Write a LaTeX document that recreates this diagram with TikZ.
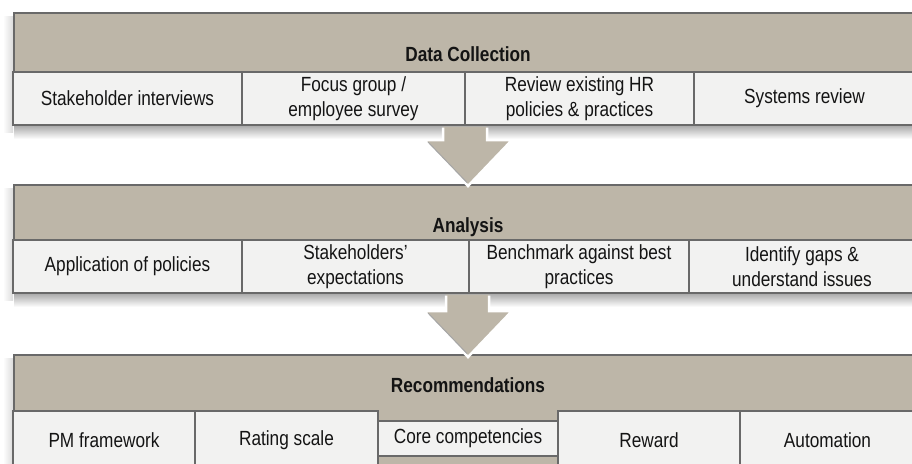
\documentclass[tikz,border=0pt]{standalone}
\usepackage{fontspec}
\setmainfont[FakeStretch=0.84]{Liberation Sans}
\definecolor{hdr}{RGB}{189,182,168}
\definecolor{cellfill}{RGB}{242,242,241}
\definecolor{bordercol}{RGB}{105,105,105}
\definecolor{txt}{RGB}{20,20,20}
\begin{document}
\begin{tikzpicture}[x=1pt,y=-1pt,
  hdrbox/.style={draw=bordercol, line width=1.1pt, fill=hdr, inner sep=0pt},
  cell/.style={draw=bordercol, line width=1.3pt, fill=cellfill, inner sep=0pt, align=center, text=txt, font=\fontsize{20.5}{25}\selectfont},
  hlabel/.style={anchor=base, inner sep=0pt, text=txt, font=\fontsize{20.5}{25}\selectfont\bfseries},
  arrowbody/.style={fill=hdr},
  arrowedge/.style={draw=white, line width=2.5pt, line join=miter},
  pshadow/.style={top color=black!32, bottom color=white, draw=none}]
\useasboundingbox (0,0) rectangle (912,463);
\clip (0,0) rectangle (912,463);
\fill[white] (0,0) rectangle (912,463);

% shadows
\shade[pshadow] (14,126) rectangle (912,139);
\shade[pshadow] (14,294) rectangle (912,307);
\shade[left color=white, right color=black!14] (3,16) rectangle (13,132);
\shade[left color=white, right color=black!14] (3,188) rectangle (13,300);
\shade[left color=white, right color=black!14] (3,358) rectangle (13,463);

% panel 1
\node[hdrbox, minimum width=901pt, minimum height=59pt] (h1) at (464.5,42.5) {};
\node[hlabel] (t1) at (468,61) {Data Collection};
\node[cell, minimum width=229pt, minimum height=53pt] (c11) at (127.5,98.5) {Stakeholder interviews};
\node[cell, minimum width=223pt, minimum height=53pt] (c12) at (353.5,98.5) {Focus group /\\employee survey};
\node[cell, minimum width=229pt, minimum height=53pt] (c13) at (579.5,98.5) {Review existing HR\\policies \& practices};
\node[cell, minimum width=221pt, minimum height=53pt] (c14) at (804.5,98.5) {Systems review};

% panel 2
\node[hdrbox, minimum width=901pt, minimum height=55pt] (h2) at (464.5,212.5) {};
\node[hlabel] (t2) at (468,232) {Analysis};
\node[cell, minimum width=229pt, minimum height=53pt] (c21) at (127.5,266.5) {Application of policies};
\node[cell, minimum width=227pt, minimum height=53pt] (c22) at (355.5,266.5) {Stakeholders'\\expectations};
\node[cell, minimum width=220pt, minimum height=53pt] (c23) at (579,266.5) {Benchmark against best\\practices};
\node[cell, minimum width=226pt, minimum height=53pt] (c24) at (802,266.5) {Identify gaps \&\\understand issues};

% panel 3
\node[hdrbox, minimum width=901pt, minimum height=115pt] (h3) at (464.5,412.5) {};
\node[hlabel] (t3) at (468,392) {Recommendations};
\node[cell, minimum width=182pt, minimum height=59pt] (c31) at (104,440.5) {PM framework};
\node[cell, minimum width=183pt, minimum height=59pt] (c32) at (286.5,440.5) {Rating scale};
\node[cell, minimum width=180pt, minimum height=35pt] (c33) at (468,438.5) {Core competencies};
\node[cell, minimum width=182pt, minimum height=59pt] (c34) at (649,440.5) {Reward};
\node[cell, minimum width=175pt, minimum height=59pt] (c35) at (827.5,440.5) {Automation};

% arrow 1 (Data Collection -> Analysis)
\coordinate (a1s) at (468,126.5);
\coordinate (a1t) at (468,186);
\fill[arrowbody] (443,126.5) -- (443,140) -- (424,140) -- (a1t) -- (512,140) -- (487,140) -- (487,126.5) -- cycle;
\draw[arrowedge] (443,127.5) -- (443,140) -- (424,140) -- (a1t) -- (512,140) -- (487,140) -- (487,127.5);
\draw[black!35, line width=1pt] (428,142) -- (467,182.5);

% arrow 2 (Analysis -> Recommendations)
\coordinate (a2s) at (468,294.5);
\coordinate (a2t) at (468,357);
\fill[arrowbody] (446,294.5) -- (446,311) -- (424,311) -- (a2t) -- (512,311) -- (489,311) -- (489,294.5) -- cycle;
\draw[arrowedge] (446,295.5) -- (446,311) -- (424,311) -- (a2t) -- (512,311) -- (489,311) -- (489,295.5);
\draw[black!35, line width=1pt] (428,313) -- (467,353.5);
\end{tikzpicture}
\end{document}
